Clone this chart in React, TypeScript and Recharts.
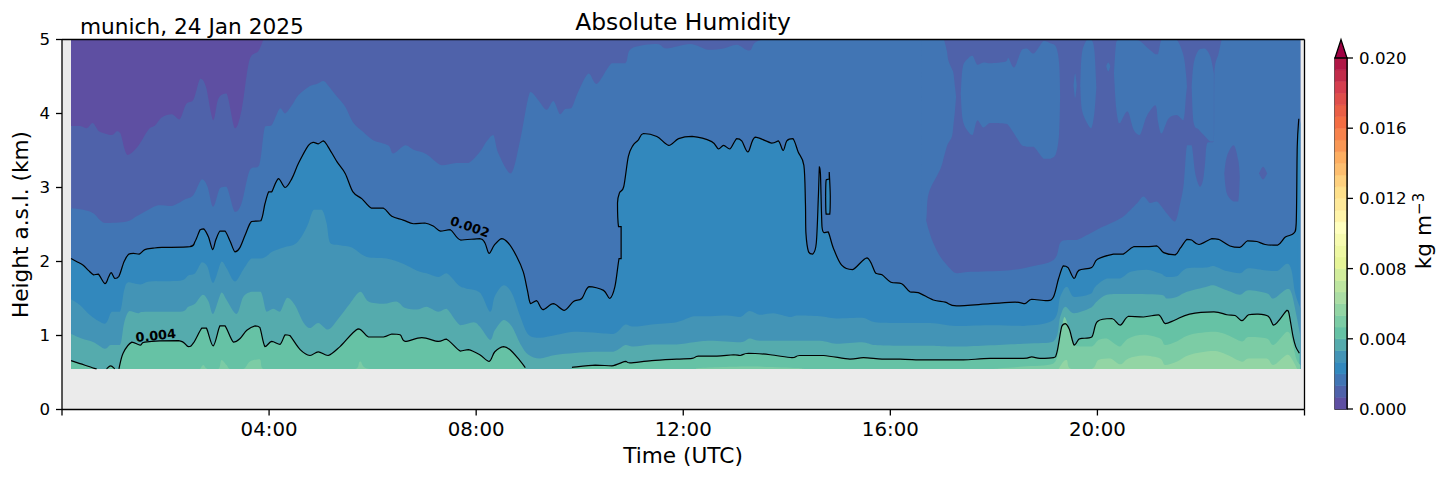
import React from 'react';
import {
  Area,
  Bar,
  ComposedChart,
  Line,
  ReferenceArea,
  ReferenceDot,
  ReferenceLine,
  XAxis,
  YAxis,
} from 'recharts';

const FONT = '"DejaVu Sans", sans-serif';

// lowest and highest range gate shown, km
const floorKm = 0.547;
const ceilKm = 5;

const hourTicks = [0, 4, 8, 12, 16, 20, 24];
const kmTicks = [0, 1, 2, 3, 4, 5];
const scaleTicks = [0, 0.004, 0.008, 0.012, 0.016, 0.02];

const scaleLevels = [
  0, 0.00067, 0.00133, 0.002, 0.00267, 0.00333, 0.004, 0.00467, 0.00533, 0.006, 0.00667, 0.00733, 0.008, 0.00867,
  0.00933, 0.01, 0.01067, 0.01133, 0.012, 0.01267, 0.01333, 0.014, 0.01467, 0.01533, 0.016, 0.01667, 0.01733, 0.018,
  0.01867, 0.01933, 0.02,
];
const scaleColors = [
  '#5e4fa2', '#4f62aa', '#4175b4', '#3288bd', '#4394b6', '#55abad', '#66c2a5', '#7ccca5', '#93d5a4', '#abdda4',
  '#bde5a0', '#d2ed9c', '#e6f598', '#eef8a3', '#f7fbb0', '#ffffbf', '#fff4aa', '#fee99a', '#fee08b', '#fed07e',
  '#fdbe6f', '#fdae61', '#f99755', '#f7824c', '#f46d43', '#ea5f46', '#df4e4b', '#d53e4f', '#c22c4a', '#b01746',
];

// [hour, km] lower edge of the driest band, top left
const edge00067 = [
  [0.175, 3.83], [0.35, 3.83], [0.48, 3.8], [0.59, 3.87], [0.67, 3.8], [0.73, 3.755], [0.96, 3.71], [1.06, 3.76],
  [1.13, 3.73], [1.26, 3.44], [1.46, 3.55], [1.67, 3.78], [1.8, 3.84], [1.93, 3.95], [2.12, 3.99], [2.27, 3.92],
  [2.4, 4.13], [2.54, 4.19], [2.67, 4.47], [2.78, 4.36], [2.92, 3.91], [3.02, 4.2], [3.18, 4.27], [3.34, 3.8],
  [3.47, 4.05], [3.62, 4.72], [3.79, 4.84], [3.89, 5],
];

const edge00133 = [
  [0.175, 2.72], [0.41, 2.7], [0.61, 2.65], [0.83, 2.52], [1.25, 2.54], [1.44, 2.61], [1.67, 2.7], [1.86, 2.76],
  [2.12, 2.75], [2.38, 2.84], [2.54, 2.9], [2.7, 3.11], [2.81, 3.01], [2.92, 2.74], [3.05, 2.99], [3.18, 3.01],
  [3.34, 2.67], [3.47, 2.79], [3.63, 3.24], [3.81, 3.3], [3.92, 3.82], [4.05, 3.84], [4.21, 4.07], [4.31, 4.0],
  [4.44, 4.11], [4.57, 4.25], [4.79, 4.37], [4.92, 4.4], [5.05, 4.44], [5.14, 4.38], [5.31, 4.23], [5.47, 4.09],
  [5.63, 3.87], [5.82, 3.75], [6.01, 3.64], [6.3, 3.57], [6.4, 3.46], [6.63, 3.57], [6.79, 3.51], [7.04, 3.45],
  [7.33, 3.3], [7.62, 3.33], [7.85, 3.33], [8.07, 3.48], [8.2, 3.62], [8.33, 3.71], [8.43, 3.46], [8.67, 3.19],
  [8.85, 3.64], [9.04, 4.29], [9.2, 4.18], [9.36, 4.05], [9.49, 4.17], [9.62, 3.99], [9.72, 4.06], [9.84, 4.07],
  [9.97, 4.29], [10.17, 4.54], [10.33, 4.4], [10.62, 4.68], [10.88, 4.68], [11.0, 4.88], [11.49, 4.94], [11.68, 4.88],
  [12.13, 4.94], [12.49, 4.86], [12.78, 4.88], [13.03, 4.93], [13.28, 4.85], [13.55, 5], [23.92, 5],
];

// the drier region east of 16 UTC: lower edge, the band runs up to the top
const dryRegion = [
  [16.69, 2.56], [16.74, 2.43], [16.83, 2.25], [16.96, 2.07], [17.12, 1.93], [17.28, 1.84], [17.54, 1.86],
  [18.25, 1.88], [18.64, 1.92], [19.15, 2.02], [19.28, 2.25], [19.41, 2.29], [19.6, 2.29], [19.99, 2.43],
  [20.44, 2.58], [20.64, 2.7], [20.77, 2.79], [20.89, 2.88], [21.02, 2.79], [21.15, 2.81], [21.34, 2.65],
  [21.5, 2.54], [21.6, 2.79], [21.67, 3.06], [21.73, 3.57], [21.82, 3.57], [21.89, 3.19], [21.98, 3.01],
  [22.04, 3.1], [22.08, 3.33], [22.12, 3.6], [22.25, 3.62], [22.26, 4.54], [22.34, 4.81], [22.4, 5],
];

// [hour, low km, high km] moister pockets inside the dry region
const pocketWest = [
  [16.6, 2.56, 5], [16.69, 2.56, 5], [16.74, 2.92, 5], [16.96, 3.24, 5], [17.03, 3.4, 5], [17.09, 3.55, 4.85],
  [17.12, 3.6, 4.72], [17.19, 3.69, 4.6], [17.22, 3.85, 4.54], [17.25, 4.05, 4.35], [17.27, 4.23, 4.23],
];
const pocketA = [
  [17.36, 4.27, 4.27], [17.4, 3.91, 4.63], [17.51, 3.75, 4.75], [17.59, 3.71, 4.78], [17.68, 3.91, 4.66],
  [17.8, 3.81, 4.69], [17.93, 3.87, 4.68], [18.22, 3.86, 4.7], [18.28, 3.84, 4.75], [18.39, 3.73, 4.62],
  [18.54, 3.57, 4.86], [18.64, 3.55, 4.88], [18.77, 3.55, 4.81], [18.96, 3.39, 4.98], [19.09, 3.39, 4.95],
  [19.2, 3.46, 4.9], [19.26, 3.73, 4.68], [19.28, 4.23, 4.23],
];
const pocketB = [
  [19.67, 4.36, 4.36], [19.7, 4.05, 4.81], [19.8, 3.87, 5], [19.88, 3.8, 5], [19.94, 4.0, 4.86], [19.98, 4.36, 4.36],
];
const pocketC = [[19.54, 4.38, 4.38], [19.57, 4.21, 4.54], [19.6, 4.38, 4.38]];
const pocketD = [[20.17, 4.64, 4.64], [20.21, 4.57, 4.69], [20.25, 4.64, 4.64]];
const pocketE = [
  [20.32, 4.54, 4.54], [20.36, 4.09, 4.95], [20.41, 3.87, 5], [20.44, 3.87, 5], [20.58, 4.03, 5], [20.7, 3.78, 5],
  [20.82, 3.71, 4.98], [20.95, 3.96, 4.9], [21.12, 4.11, 4.8], [21.17, 3.89, 4.8], [21.24, 3.73, 5], [21.37, 3.93, 5],
  [21.53, 3.98, 5], [21.66, 3.91, 4.79], [21.71, 4.23, 4.54], [21.73, 4.36, 4.36],
];
const pocketF = [
  [21.82, 4.36, 4.36], [21.86, 3.87, 4.68], [21.96, 3.78, 4.86], [22.08, 3.69, 4.88], [22.18, 3.62, 4.77],
  [22.25, 3.62, 4.54],
];

// drier spots east of the dry region
const spotG = [[22.45, 3.19, 3.19], [22.5, 2.92, 3.42], [22.63, 2.81, 3.57], [22.72, 2.81, 3.37], [22.75, 3.15, 3.15]];
const spotH = [[23.12, 3.19, 3.19], [23.2, 3.11, 3.28], [23.28, 3.19, 3.19]];

// 0.002 contour, doubles back near 10.8 UTC
const contour002 = [
  [0.175, 2.04], [0.28, 2.0], [0.41, 1.95], [0.51, 1.88], [0.61, 1.82], [0.7, 1.83], [0.83, 1.7], [0.9, 1.79],
  [0.95, 1.85], [1.02, 1.77], [1.1, 1.8], [1.2, 2.0], [1.29, 2.1], [1.38, 2.11], [1.49, 2.1], [1.6, 2.16], [1.76, 2.18],
  [1.93, 2.19], [2.47, 2.2], [2.57, 2.27], [2.67, 2.43], [2.74, 2.44], [2.83, 2.33], [2.91, 2.16], [2.97, 2.29],
  [3.05, 2.41], [3.15, 2.41], [3.25, 2.27], [3.34, 2.13], [3.43, 2.18], [3.54, 2.36], [3.66, 2.54], [3.84, 2.55],
  [3.92, 2.78], [3.99, 2.94], [4.05, 2.94], [4.18, 3.12], [4.31, 3.0], [4.44, 3.12], [4.57, 3.33], [4.76, 3.57],
  [4.86, 3.61], [4.95, 3.59], [5.05, 3.63], [5.14, 3.55], [5.31, 3.35], [5.47, 3.19], [5.62, 2.94], [5.79, 2.85],
  [5.98, 2.72], [6.21, 2.72], [6.37, 2.61], [6.59, 2.56], [6.79, 2.51], [7.01, 2.52], [7.17, 2.48], [7.31, 2.41],
  [7.5, 2.43], [7.7, 2.29], [8.07, 2.31], [8.17, 2.25], [8.25, 2.11], [8.35, 2.22], [8.49, 2.31], [8.62, 2.25],
  [8.78, 2.07], [8.91, 1.86], [8.99, 1.61], [9.05, 1.43], [9.17, 1.47], [9.29, 1.35], [9.49, 1.43], [9.7, 1.34],
  [9.88, 1.46], [10.04, 1.5], [10.18, 1.66], [10.46, 1.61], [10.58, 1.5], [10.68, 1.66], [10.76, 2.04], [10.8, 2.04],
  [10.8, 2.47], [10.75, 2.47], [10.73, 2.79], [10.77, 2.93], [10.85, 3.01], [10.94, 3.42], [11.03, 3.57], [11.13, 3.64],
  [11.23, 3.73], [11.49, 3.69], [11.72, 3.57], [11.91, 3.66], [12.17, 3.69], [12.55, 3.62], [12.68, 3.52], [12.78, 3.57],
  [12.9, 3.52], [13.03, 3.66], [13.13, 3.63], [13.25, 3.48], [13.39, 3.68], [13.71, 3.6], [13.84, 3.63], [13.93, 3.5],
  [14.0, 3.63], [14.12, 3.66], [14.22, 3.48], [14.33, 3.3], [14.36, 2.79], [14.37, 2.38], [14.42, 2.13], [14.5, 2.1],
  [14.57, 2.25], [14.61, 2.88], [14.63, 3.28], [14.65, 3.19], [14.68, 2.47], [14.72, 2.39], [14.8, 2.4], [14.9, 2.18],
  [15.06, 1.95], [15.27, 1.89], [15.55, 2.05], [15.72, 1.84], [15.84, 1.82], [16.01, 1.72], [16.22, 1.7], [16.38, 1.59],
  [16.54, 1.58], [16.83, 1.48], [17.06, 1.45], [17.28, 1.4], [17.93, 1.43], [18.41, 1.45], [18.6, 1.43], [18.73, 1.49],
  [19.02, 1.47], [19.15, 1.52], [19.25, 1.77], [19.34, 1.94], [19.43, 1.92], [19.55, 1.77], [19.64, 1.88], [19.89, 1.92],
  [20.0, 2.03], [20.31, 2.1], [20.5, 2.1], [20.7, 2.2], [20.95, 2.2], [21.15, 2.21], [21.28, 2.12], [21.5, 2.09],
  [21.6, 2.18], [21.73, 2.3], [21.82, 2.29], [21.96, 2.23], [22.21, 2.31], [22.34, 2.3], [22.56, 2.21], [22.75, 2.19],
  [22.9, 2.28], [23.08, 2.27], [23.24, 2.23], [23.48, 2.22], [23.63, 2.33], [23.79, 2.38], [23.84, 2.52], [23.86, 3.55],
  [23.89, 3.93],
];
const contour002Ring = [
  [14.75, 2.88], [14.76, 3.1], [14.82, 3.12], [14.82, 3.21], [14.84, 2.88], [14.83, 2.64], [14.76, 2.64], [14.75, 2.88],
];
const ringFill = [[14.75, 2.88, 2.88], [14.76, 2.66, 3.08], [14.82, 2.64, 3.15], [14.84, 2.88, 2.88]];
const eastEdgeFill = [[23.86, floorKm, 3.55], [23.92, floorKm, 3.9]];

const edge00267 = [
  [0.175, 1.49], [0.35, 1.41], [0.57, 1.26], [0.83, 1.16], [0.96, 1.32], [1.12, 1.32], [1.2, 1.61], [1.28, 1.72],
  [1.51, 1.69], [1.7, 1.73], [2.28, 1.74], [2.44, 1.81], [2.57, 1.84], [2.7, 1.99], [2.81, 1.93], [2.92, 1.71],
  [3.08, 2.0], [3.18, 1.91], [3.34, 1.73], [3.5, 1.89], [3.66, 2.04], [3.84, 2.04], [3.95, 2.07], [4.05, 2.13],
  [4.28, 2.19], [4.53, 2.25], [4.73, 2.47], [4.86, 2.7], [5.02, 2.7], [5.11, 2.52], [5.18, 2.25], [5.37, 2.22],
  [5.6, 2.19], [5.89, 2.06], [6.27, 2.04], [6.59, 1.97], [6.85, 1.88], [7.04, 1.84], [7.27, 1.79], [7.43, 1.84],
  [7.66, 1.68], [7.79, 1.64], [8.07, 1.58], [8.27, 1.32], [8.36, 1.53], [8.53, 1.68], [8.69, 1.57], [8.85, 1.26],
  [9.01, 1.01], [9.23, 0.97], [9.56, 1.01], [9.88, 1.05], [10.26, 1.04], [10.65, 1.02], [10.88, 1.15], [11.04, 1.12],
  [11.39, 1.15], [11.87, 1.18], [12.2, 1.26], [12.52, 1.26], [12.84, 1.27], [13.1, 1.25], [13.28, 1.33], [13.48, 1.28],
  [13.74, 1.3], [14.06, 1.25], [14.22, 1.27], [14.64, 1.26], [14.96, 1.23], [15.45, 1.24], [15.71, 1.18], [16.19, 1.17],
  [16.77, 1.17], [17.28, 1.13], [17.99, 1.14], [18.57, 1.13], [19.15, 1.21], [19.28, 1.52], [19.41, 1.66], [19.55, 1.52],
  [19.86, 1.56], [19.96, 1.66], [20.18, 1.77], [20.44, 1.77], [20.64, 1.86], [20.95, 1.89], [21.21, 1.84], [21.34, 1.79],
  [21.53, 1.8], [21.73, 1.91], [22.11, 1.92], [22.24, 1.94], [22.5, 1.87], [22.75, 1.84], [22.92, 1.91], [23.27, 1.88],
  [23.47, 1.87], [23.66, 1.97], [23.75, 1.88], [23.82, 1.57], [23.92, 1.37],
];

const edge00333 = [
  [0.175, 1.02], [0.38, 0.96], [0.61, 0.91], [0.83, 0.82], [0.94, 0.87], [1.12, 0.87], [1.2, 1.17], [1.3, 1.33],
  [1.47, 1.3], [1.6, 1.32], [2.28, 1.32], [2.44, 1.39], [2.57, 1.43], [2.72, 1.55], [2.83, 1.46], [2.92, 1.29],
  [3.08, 1.58], [3.18, 1.48], [3.37, 1.29], [3.5, 1.52], [3.66, 1.59], [3.84, 1.59], [3.95, 1.32], [4.08, 1.36],
  [4.21, 1.32], [4.35, 1.51], [4.5, 1.41], [4.66, 1.18], [4.79, 1.1], [4.95, 1.17], [5.14, 1.08], [5.34, 1.23],
  [5.56, 1.43], [5.76, 1.59], [5.92, 1.46], [6.21, 1.43], [6.46, 1.46], [6.63, 1.37], [6.85, 1.35], [7.04, 1.39],
  [7.27, 1.32], [7.43, 1.36], [7.69, 1.14], [7.95, 1.18], [8.07, 1.12], [8.27, 0.94], [8.36, 1.07], [8.53, 1.21],
  [8.69, 1.12], [8.85, 0.89], [9.01, 0.74], [9.23, 0.69], [9.56, 0.74], [10.26, 0.78], [10.65, 0.78], [10.88, 0.87],
  [11.04, 0.85], [11.39, 0.88], [11.87, 0.88], [12.2, 0.91], [12.52, 0.93], [13.1, 0.91], [13.28, 0.96], [13.48, 0.93],
  [14.06, 0.93], [14.64, 0.93], [14.96, 0.89], [15.45, 0.91], [15.71, 0.87], [16.19, 0.86], [16.77, 0.86], [17.28, 0.85],
  [18.57, 0.89], [19.15, 0.92], [19.28, 1.25], [19.38, 1.39], [19.55, 1.3], [19.86, 1.37], [19.99, 1.46], [20.18, 1.55],
  [20.5, 1.56], [21.21, 1.55], [21.34, 1.5], [21.53, 1.52], [21.73, 1.59], [22.11, 1.66], [22.24, 1.68], [22.5, 1.61],
  [22.75, 1.55], [22.92, 1.61], [23.27, 1.57], [23.4, 1.5], [23.66, 1.63], [23.75, 1.57], [23.85, 1.25], [23.92, 0.99],
];

// 0.004 contour, drops under the lowest gate in a few places
const contour004 = [
  [0.175, 0.66], [0.35, 0.62], [0.61, 0.56], [0.67, 0.55], [0.72, null], [0.86, 0.55], [0.94, 0.59], [1.02, 0.55],
  [1.06, null], [1.1, 0.55], [1.18, 0.76], [1.35, 0.91], [1.51, 0.87], [1.6, 0.91], [2.25, 0.93], [2.44, 0.85],
  [2.54, 0.9], [2.7, 1.1], [2.79, 1.1], [2.92, 0.86], [3.05, 1.13], [3.15, 1.13], [3.31, 0.91], [3.44, 0.96],
  [3.57, 1.07], [3.73, 1.13], [3.82, 1.11], [3.92, 0.85], [4.05, 0.92], [4.21, 0.88], [4.31, 1.01], [4.4, 1.0],
  [4.6, 0.81], [4.79, 0.73], [4.95, 0.78], [5.14, 0.73], [5.37, 0.85], [5.72, 1.09], [5.92, 0.98], [6.21, 0.98],
  [6.37, 1.02], [6.53, 1.01], [6.63, 0.92], [6.95, 0.97], [7.27, 0.92], [7.43, 0.95], [7.69, 0.79], [7.85, 0.81],
  [8.07, 0.74], [8.25, 0.65], [8.36, 0.78], [8.53, 0.85], [8.65, 0.81], [8.81, 0.69], [8.95, 0.565], [9.4, null],
  [9.85, 0.57], [10.3, 0.6], [10.62, 0.59], [10.88, 0.65], [10.97, 0.63], [11.39, 0.66], [11.87, 0.68], [12.17, 0.69],
  [12.29, 0.72], [12.65, 0.72], [12.97, 0.74], [13.1, 0.73], [13.26, 0.76], [13.68, 0.74], [14.1, 0.7], [14.25, 0.73],
  [14.71, 0.73], [15.22, 0.68], [15.48, 0.7], [15.84, 0.68], [16.19, 0.68], [16.64, 0.67], [16.96, 0.67], [17.41, 0.67],
  [17.93, 0.69], [18.57, 0.69], [18.73, 0.71], [18.89, 0.69], [19.15, 0.7], [19.22, 0.78], [19.31, 1.12], [19.38, 1.16],
  [19.46, 1.08], [19.55, 0.87], [19.64, 0.95], [19.7, 0.96], [19.89, 0.98], [20.0, 1.19], [20.28, 1.23], [20.44, 1.14],
  [20.6, 1.26], [20.89, 1.25], [21.18, 1.28], [21.31, 1.16], [21.5, 1.21], [21.78, 1.29], [22.25, 1.32], [22.5, 1.28],
  [22.66, 1.27], [22.79, 1.2], [22.92, 1.28], [23.08, 1.29], [23.3, 1.26], [23.4, 1.14], [23.49, 1.19], [23.66, 1.34],
  [23.7, 1.3], [23.78, 0.98], [23.83, 0.85], [23.9, 0.76],
];

const edge00467 = [
  [2.67, 0.547], [2.73, 0.6], [2.81, 0.547], [3.02, 0.547], [3.08, 0.67], [3.18, 0.6], [3.25, 0.547], [3.5, 0.547],
  [3.63, 0.65], [3.82, 0.68], [3.89, 0.547], [5.66, 0.547], [5.76, 0.65], [5.95, 0.547], [12.2, 0.547], [12.3, 0.56],
  [13.3, 0.58], [14.2, 0.56], [14.4, 0.547], [18.0, 0.547], [18.12, 0.556], [18.57, 0.58], [19.15, 0.62], [19.28, 0.98],
  [19.36, 1.25], [19.44, 1.12], [19.55, 0.87], [19.67, 0.85], [19.89, 0.85], [20.02, 0.94], [20.18, 0.96], [20.37, 0.87],
  [20.44, 0.85], [20.6, 0.96], [20.89, 1.01], [21.21, 0.96], [21.31, 0.87], [21.53, 0.92], [21.79, 1.01], [22.24, 1.05],
  [22.5, 1.01], [22.79, 0.92], [22.92, 0.98], [23.27, 0.96], [23.4, 0.87], [23.66, 1.05], [23.75, 0.96], [23.84, 0.69],
  [23.92, 0.6],
];

const edge00533 = [
  [19.25, 0.547], [19.34, 0.646], [19.41, 0.67], [19.49, 0.547], [19.89, 0.547], [20.02, 0.67], [20.25, 0.69],
  [20.44, 0.61], [20.6, 0.69], [20.89, 0.73], [21.21, 0.69], [21.31, 0.6], [21.53, 0.646], [21.79, 0.74], [22.24, 0.79],
  [22.5, 0.74], [22.79, 0.646], [22.92, 0.69], [23.27, 0.69], [23.4, 0.6], [23.66, 0.74], [23.75, 0.69], [23.86, 0.547],
];

const wholeColumn = [[0.175, floorKm, ceilKm], [23.92, floorKm, ceilKm]];

const fromRange = (rows: any[]) => rows.map(([h, lo, hi]) => ({ h, band: [lo, hi] }));
const below = (rows: any[]) => rows.map(([h, km]) => ({ h, band: km == null ? null : [floorKm, km] }));
const above = (rows: any[]) => rows.map(([h, km]) => ({ h, band: [km, ceilKm] }));
const points = (rows: any[]) => rows.map(([h, km]) => ({ h, km }));

const hhmm = (v: number) => (v === 0 || v === 24 ? '' : `${String(v).padStart(2, '0')}:00`);

const scaleRow: Record<string, number | string> = { x: 'scale' };
scaleColors.forEach((_, i) => {
  scaleRow[`s${i}`] = scaleLevels[i + 1] - scaleLevels[i];
});

// contours are drawn through many short segments, round the joints without overshooting them
const between = (v: number, a: number, b: number) => Math.max(Math.min(a, b), Math.min(Math.max(a, b), v));
const smoothCurve = (ctx: any) => {
  let area = NaN;
  let pts: number[][] = [];
  return {
    areaStart() {
      area = 0;
    },
    areaEnd() {
      area = NaN;
    },
    lineStart() {
      pts = [];
    },
    point(x: number, y: number) {
      pts.push([+x, +y]);
    },
    lineEnd() {
      if (pts.length) {
        if (area) ctx.lineTo(pts[0][0], pts[0][1]);
        else ctx.moveTo(pts[0][0], pts[0][1]);
        for (let i = 0; i < pts.length - 1; i++) {
          const p0 = pts[Math.max(i - 1, 0)];
          const p1 = pts[i];
          const p2 = pts[i + 1];
          const p3 = pts[Math.min(i + 2, pts.length - 1)];
          ctx.bezierCurveTo(
            between(p1[0] + (p2[0] - p0[0]) / 6, p1[0], p2[0]),
            between(p1[1] + (p2[1] - p0[1]) / 6, p1[1], p2[1]),
            between(p2[0] - (p3[0] - p1[0]) / 6, p1[0], p2[0]),
            between(p2[1] - (p3[1] - p1[1]) / 6, p1[1], p2[1]),
            p2[0],
            p2[1],
          );
        }
      }
      if (area || (area !== 0 && pts.length === 1)) ctx.closePath();
      area = 1 - area;
    },
  };
};

// painted back to front, later bands cover the earlier ones
const bands: [any[], string][] = [
  [fromRange(wholeColumn), scaleColors[1]],
  [below(edge00133), scaleColors[2]],
  [above(dryRegion), scaleColors[1]],
  [fromRange(pocketWest), scaleColors[2]],
  [fromRange(pocketA), scaleColors[2]],
  [fromRange(pocketB), scaleColors[2]],
  [fromRange(pocketC), scaleColors[2]],
  [fromRange(pocketD), scaleColors[2]],
  [fromRange(pocketE), scaleColors[2]],
  [fromRange(pocketF), scaleColors[2]],
  [fromRange(spotG), scaleColors[1]],
  [fromRange(spotH), scaleColors[1]],
  [above(edge00067), scaleColors[0]],
  [below(contour002), scaleColors[3]],
  [fromRange(ringFill), scaleColors[3]],
  [fromRange(eastEdgeFill), scaleColors[3]],
  [below(edge00267), scaleColors[4]],
  [below(edge00333), scaleColors[5]],
  [below(contour004), scaleColors[6]],
  [below(edge00467), scaleColors[7]],
  [below(edge00533), scaleColors[8]],
];

const contourLines = [contour002, contour002Ring, contour004];

function ContourLabel({ cx, cy, text, angle }: any) {
  return (
    <text
      x={cx}
      y={cy}
      textAnchor="middle"
      dominantBaseline="central"
      fontFamily={FONT}
      fontSize={12.8}
      fontWeight="bold"
      fill="#000"
      transform={`rotate(${angle} ${cx} ${cy})`}
    >
      {text}
    </text>
  );
}

export default function App() {
  return (
    <div style={{ position: 'absolute', left: 0, top: 0, width: 1454, height: 478, background: '#fff', overflow: 'hidden' }}>
      <div style={{ position: 'absolute', left: 0, top: 0 }}>
        <ComposedChart width={1454} height={478} margin={{ top: 39.5, right: 149.5, bottom: 38.5, left: 12 }}>
          <XAxis
            type="number"
            dataKey="h"
            domain={[0, 24]}
            ticks={hourTicks}
            tickFormatter={hhmm}
            interval={0}
            height={30}
            tickSize={6}
            tickMargin={6}
            tick={{ fontFamily: FONT, fontSize: 19.8, fill: '#000' }}
            stroke="#000"
            strokeWidth={1.3}
          />
          <YAxis
            type="number"
            domain={[0, ceilKm]}
            ticks={kmTicks}
            interval={0}
            width={50}
            tickSize={6}
            tickMargin={6}
            tick={{ fontFamily: FONT, fontSize: 16.67, fill: '#000' }}
            stroke="#000"
            strokeWidth={1.3}
          />
          <ReferenceArea x1={0} x2={24} y1={0} y2={ceilKm} fill="#ebebeb" fillOpacity={1} stroke="none" />
          {bands.map(([rows, color], i) => (
            <Area
              key={i}
              data={rows}
              dataKey="band"
              type={smoothCurve as any}
              fill={color}
              fillOpacity={1}
              stroke="none"
              dot={false}
              activeDot={false}
              isAnimationActive={false}
            />
          ))}
          {contourLines.map((rows, i) => (
            <Line
              key={i}
              data={points(rows)}
              dataKey="km"
              type={smoothCurve as any}
              stroke="#000"
              strokeWidth={1.2}
              dot={false}
              activeDot={false}
              isAnimationActive={false}
            />
          ))}
          <ReferenceDot x={7.88} y={2.47} r={0} shape={(p: any) => <ContourLabel {...p} text="0.002" angle={19} />} />
          <ReferenceDot x={1.81} y={1.0} r={0} shape={(p: any) => <ContourLabel {...p} text="0.004" angle={-6} />} />
          <ReferenceLine y={ceilKm} stroke="#000" strokeWidth={1.3} />
          <ReferenceLine x={24} stroke="#000" strokeWidth={1.3} />
        </ComposedChart>
      </div>

      {/* colour scale */}
      <div style={{ position: 'absolute', left: 1320, top: 0 }}>
        <ComposedChart
          width={134}
          height={478}
          margin={{ top: 58, right: 47, bottom: 69, left: 15 }}
          data={[scaleRow]}
          barCategoryGap={0}
        >
          <XAxis dataKey="x" hide />
          <YAxis
            orientation="right"
            type="number"
            domain={[0, 0.02]}
            ticks={scaleTicks}
            interval={0}
            width={60}
            tickFormatter={(v: number) => v.toFixed(3)}
            tickSize={6}
            tickMargin={6}
            tick={{ fontFamily: FONT, fontSize: 16.67, fill: '#000', textAnchor: 'start' }}
            stroke="#000"
            strokeWidth={1.3}
          />
          {scaleColors.map((color, i) => (
            <Bar key={i} dataKey={`s${i}`} stackId="scale" fill={color} stroke={color} strokeWidth={0.6} isAnimationActive={false} />
          ))}
          <ReferenceArea y1={0} y2={0.02} fill="none" stroke="#000" strokeWidth={1.3} />
        </ComposedChart>
      </div>

      {/* titles and the colour bar arrow */}
      <svg width={1454} height={478} style={{ position: 'absolute', left: 0, top: 0, pointerEvents: 'none' }} fontFamily={FONT}>
        <polygon points="1335,58 1341,39.5 1347,58" fill="#9e0142" stroke="#000" strokeWidth={1.3} />
        <text x={80} y={34} fontSize={21.67}>munich, 24 Jan 2025</text>
        <text x={683} y={30} fontSize={23.4} textAnchor="middle">Absolute Humidity</text>
        <text x={683} y={463} fontSize={21.67} textAnchor="middle">Time (UTC)</text>
        <text transform="translate(28 224.5) rotate(-90)" fontSize={21.67} textAnchor="middle">Height a.s.l. (km)</text>
        <text transform="translate(1431 231) rotate(-90)" fontSize={21.67} textAnchor="middle">
          kg m<tspan dy={-7} fontSize={15}>−3</tspan>
        </text>
      </svg>
    </div>
  );
}
